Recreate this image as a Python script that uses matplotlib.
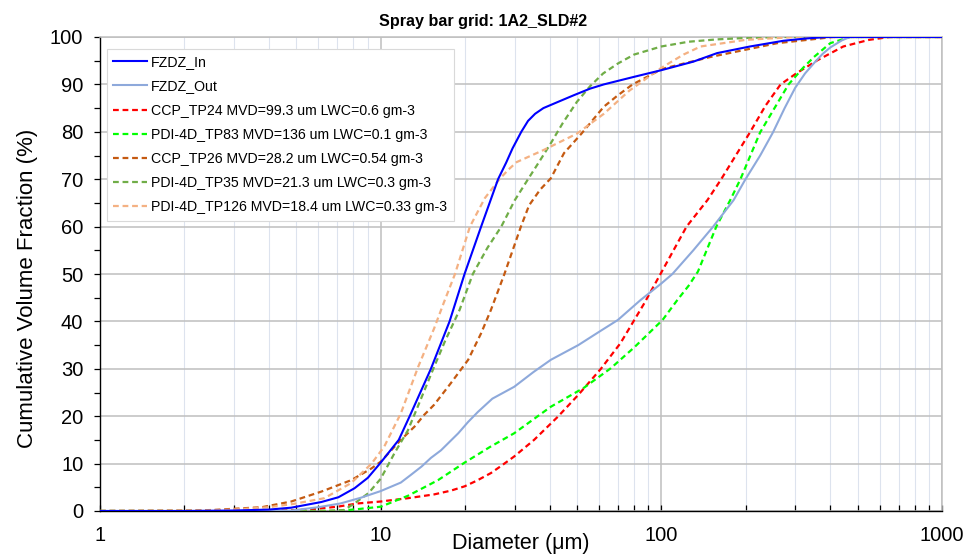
import matplotlib
matplotlib.use("Agg")
import matplotlib.pyplot as plt
from matplotlib.ticker import FixedLocator, LogLocator, NullFormatter, MultipleLocator

plt.rcParams["font.family"] = ["Liberation Sans", "DejaVu Sans"]

# ---------------------------------------------------------------------------
# Data (diameter in um, cumulative volume %)
# ---------------------------------------------------------------------------
in_x = [1, 2, 3, 4, 4.8, 6.15, 7.07, 8.07, 9.0, 10, 11.6, 12.8, 15.1, 17.6,
        19.9, 22.8, 26.2, 28, 29.5, 31.7, 33.5, 35.5, 38, 42.8, 48.7, 55.7,
        62.4, 80, 100, 130, 158, 207, 272, 330, 388, 1000]
in_y = [0, 0, 0.1, 0.3, 0.7, 1.9, 2.9, 4.8, 7, 10.2, 15, 20.5, 30, 40,
        50, 60, 70, 73.5, 76.5, 80, 82.3, 83.8, 85, 86.3, 87.7, 89.1,
        90, 91.6, 93, 94.8, 96.6, 98, 99.2, 99.7, 100, 100]

out_x = [1, 3, 4.8, 6, 7.2, 8.5, 10, 11.8, 12.8, 14, 15.1, 16.4, 18.9, 20.5,
         22.2, 25, 29.9, 35, 40.4, 50.6, 60, 70, 84.3, 100, 109.5, 130, 153,
         181, 199, 225, 250, 275, 300, 325, 350, 375, 400, 440, 470, 1000]
out_y = [0, 0, 0.1, 0.8, 1.6, 2.8, 4.2, 6, 7.6, 9.4, 11.2, 12.8, 16.4, 18.8,
         20.9, 23.7, 26.2, 29.3, 31.9, 35, 37.8, 40.3, 44.5, 48, 50, 55, 60,
         65.6, 69.9, 75, 79.9, 85, 89.3, 92.3, 94.5, 96.4, 97.8, 99.3, 100, 100]

tp24_x = [1, 4, 5.5, 7, 8.3, 10, 12.5, 15.5, 17.8, 19.9, 22, 24.7, 27, 29.9,
          35.2, 42.8, 50.6, 60.9, 71.5, 86.9, 99.3, 123, 146, 163, 207, 235,
          266, 304, 360, 445, 550, 650, 1000]
tp24_y = [0, 0, 0.3, 0.9, 1.6, 2.0, 2.7, 3.5, 4.3, 5.2, 6.4, 8, 9.6, 11.5,
          15, 19.9, 24.5, 30, 35.4, 43.8, 50, 60, 65.6, 69.9, 79.9, 85.5,
          90, 92.4, 95.1, 98, 99.4, 100, 100]

tp83_x = [1, 7, 8.3, 10, 12.5, 16, 19.9, 24.5, 29.9, 40.4, 53, 66, 80, 101,
          114, 125, 135, 145, 157, 176, 191, 225, 284, 320, 350, 400, 470, 1000]
tp83_y = [0, 0, 0.4, 0.9, 3.2, 6.5, 10.2, 13.5, 16.4, 22, 26, 30.1, 34.5, 40.3,
          44.5, 47.5, 50.5, 55, 60, 65.6, 69.9, 79.9, 90, 93.5, 95.8, 98.7,
          100, 100]

tp26_x = [1, 2, 2.5, 3.77, 4.8, 6.15, 7.85, 9.28, 10, 11.8, 13.2, 14.3, 15.5,
          17.8, 20.5, 22.8, 24.7, 27.6, 31.6, 33.8, 37, 40.4, 45, 51.9, 62.4,
          70, 79, 101, 150, 259, 410, 1000]
tp26_y = [0, 0.1, 0.2, 0.8, 2, 4.1, 6.5, 9, 10.4, 15, 17.8, 20.3, 22.4,
          27, 31.9, 37.5, 42.4, 50, 60, 64.5, 67.8, 70.2, 75.5, 79.6, 85.3,
          87.7, 90, 93.3, 95.8, 98.7, 100, 100]

tp35_x = [1, 6, 7.4, 8.07, 9.06, 10, 11.2, 12.5, 13.4, 15.5, 17, 19.1, 21.3,
          24, 26.9, 30, 33.5, 37, 40.4, 44.5, 50, 55.7, 62, 70, 80, 100, 125,
          158, 200, 270, 1000]
tp35_y = [0, 0, 0.2, 1.6, 3.8, 6.8, 12.2, 17, 21.3, 30.4, 36, 42.4, 50,
          55.5, 60, 65.5, 70, 74, 77.6, 81.8, 86.3, 89.6, 92.3, 94.4, 96.3, 98,
          99, 99.5, 99.8, 100, 100]

tp126_x = [1, 2.5, 3, 4, 4.9, 6.3, 7.85, 9.28, 10.3, 11.8, 13.6, 15.5, 16.8,
           18.4, 20.8, 23.5, 26.5, 28.5, 30.5, 38.2, 50, 62.4, 77, 100, 120,
           138, 200, 300, 1000]
tp126_y = [0, 0.1, 0.3, 0.8, 1.5, 2.7, 5.9, 10, 13.6, 20.6, 30.4, 38.5, 44,
           50, 60, 66, 70, 72, 73.6, 76.2, 79.6, 83.8, 88.7, 93.5, 96.3,
           98, 99.4, 100, 100]

labels = ["FZDZ_In", "FZDZ_Out",
          "CCP_TP24 MVD=99.3 um LWC=0.6 gm-3",
          "PDI-4D_TP83 MVD=136 um LWC=0.1 gm-3",
          "CCP_TP26 MVD=28.2 um LWC=0.54 gm-3",
          "PDI-4D_TP35 MVD=21.3 um LWC=0.3 gm-3",
          "PDI-4D_TP126 MVD=18.4 um LWC=0.33 gm-3"]

# ---------------------------------------------------------------------------
# Figure
# ---------------------------------------------------------------------------
fig = plt.figure(figsize=(9.67, 5.59), dpi=100)
ax = fig.add_axes([100 / 967, 48 / 559, 842 / 967, 474 / 559])

ax.plot(in_x, in_y, color="#0000FF", lw=1.5, label=labels[0], zorder=5)
ax.plot(out_x, out_y, color="#8EA9DB", lw=1.5, label=labels[1], zorder=4)
dash = (2.6, 1.7)
for xs, ys, c, lab in [(tp24_x, tp24_y, "#FF0000", labels[2]),
                       (tp83_x, tp83_y, "#00FF00", labels[3]),
                       (tp26_x, tp26_y, "#C55A11", labels[4]),
                       (tp35_x, tp35_y, "#70AD47", labels[5]),
                       (tp126_x, tp126_y, "#F4B183", labels[6])]:
    ax.plot(xs, ys, color=c, lw=1.6, ls=(0, dash), label=lab, zorder=3)

ax.set_xscale("log")
ax.set_xlim(1, 1000)
ax.set_ylim(0, 100)

ax.xaxis.set_major_locator(FixedLocator([1, 10, 100, 1000]))
ax.set_xticklabels(["1", "10", "100", "1000"])
ax.xaxis.set_minor_locator(LogLocator(base=10, subs=range(2, 10)))
ax.xaxis.set_minor_formatter(NullFormatter())
ax.yaxis.set_major_locator(MultipleLocator(10))
ax.yaxis.set_minor_locator(MultipleLocator(5))

ax.tick_params(axis="x", which="both", direction="in", length=4, width=0.9,
               labelsize=14.5, pad=11)
ax.tick_params(axis="y", which="both", direction="out", length=4, width=0.9,
               labelsize=14.5, pad=8)

ax.grid(True, which="major", color="#BFBFBF", lw=1.1, zorder=0)
ax.grid(True, which="minor", axis="x", color="#DDE3EE", lw=0.8, zorder=0)
ax.set_axisbelow(True)

for s in ["top", "right"]:
    ax.spines[s].set_color("#BFBFBF")
    ax.spines[s].set_linewidth(1.1)
for s in ["left", "bottom"]:
    ax.spines[s].set_color("black")
    ax.spines[s].set_linewidth(1.0)

ax.set_xlabel("Diameter (\u03bcm)", fontsize=15.5)
ax.xaxis.set_label_coords(0.5, -0.046)
ax.set_ylabel("Cumulative Volume Fraction (%)", fontsize=16)
ax.yaxis.set_label_coords(-0.074, 0.47)

fig.text(0.5, 0.962, "Spray bar grid: 1A2_SLD#2", fontsize=11.6,
         fontweight="bold", ha="center", va="center")

leg = ax.legend(loc="upper left", bbox_to_anchor=(0.008, 0.975),
                borderaxespad=0, fontsize=10.2, handlelength=2.4,
                handletextpad=0.3, borderpad=0.45, labelspacing=0.72,
                fancybox=False, framealpha=1, edgecolor="#D9D9D9")
leg.get_frame().set_linewidth(0.8)

fig.savefig("out.png", dpi=100, facecolor="white")
